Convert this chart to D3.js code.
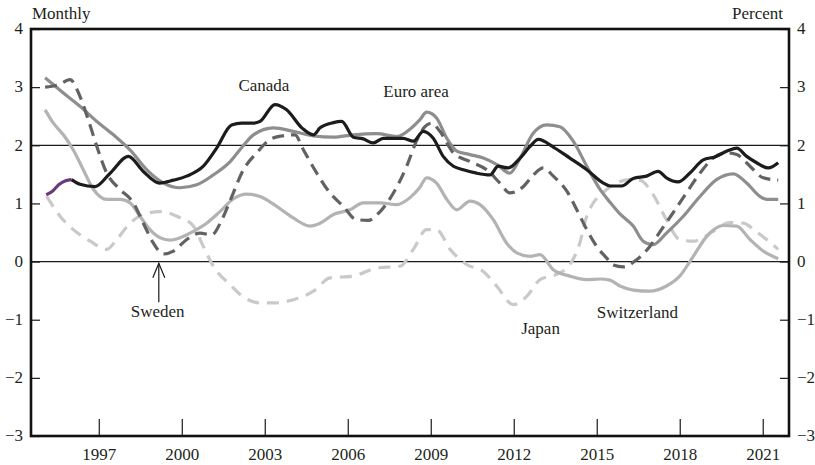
<!DOCTYPE html>
<html>
<head>
<meta charset="utf-8">
<script src="https://cdn.jsdelivr.net/npm/d3@7"></script>
<style>
  html, body { margin: 0; padding: 0; background: #fff; }
  svg { display: block; }
  text { font-family: "Liberation Serif", "DejaVu Serif", serif; fill: #231f20; }
</style>
</head>
<body>
<svg id="chart" width="815" height="465"></svg>
<script>
// ---------- DATA ----------
const yearTicks = [1997, 2000, 2003, 2006, 2009, 2012, 2015, 2018, 2021];
const valueTicks = [-3, -2, -1, 0, 1, 2, 3, 4];
const leftTitle = "Monthly";
const rightTitle = "Percent";

const canadaEarly = [
  [1995.10, 1.15], [1995.30, 1.20], [1995.55, 1.32], [1995.80, 1.39], [1996.02, 1.41]
];
const canada = [
  [1996.02, 1.41], [1996.32, 1.33], [1996.87, 1.29], [1997.41, 1.52], [1998.07, 1.81],
  [1998.61, 1.55], [1999.20, 1.35], [1999.70, 1.40], [2000.18, 1.47], [2000.78, 1.64],
  [2001.26, 1.95], [2001.80, 2.35], [2002.17, 2.38], [2002.59, 2.38], [2002.83, 2.41],
  [2003.37, 2.70], [2003.79, 2.61], [2004.34, 2.30], [2004.76, 2.18], [2005.00, 2.30],
  [2005.48, 2.39], [2005.78, 2.41], [2006.20, 2.14], [2006.56, 2.11], [2006.92, 2.04],
  [2007.28, 2.12], [2008.00, 2.12], [2008.37, 2.07], [2008.73, 2.24], [2009.09, 2.12],
  [2009.45, 1.81], [2009.82, 1.64], [2010.18, 1.58], [2010.66, 1.52], [2011.14, 1.49],
  [2011.44, 1.64], [2011.80, 1.61], [2012.23, 1.78], [2012.59, 1.98], [2012.89, 2.10],
  [2013.43, 1.97], [2014.03, 1.78], [2014.64, 1.58], [2015.24, 1.35], [2015.48, 1.30],
  [2015.90, 1.30], [2016.32, 1.43], [2016.80, 1.47], [2017.22, 1.55], [2017.52, 1.44],
  [2017.94, 1.37], [2018.36, 1.52], [2018.85, 1.75], [2019.27, 1.80], [2019.75, 1.91],
  [2020.06, 1.95], [2020.42, 1.81], [2020.78, 1.70], [2021.20, 1.61], [2021.56, 1.70]
];
const euroArea = [
  [1995.06, 3.16], [1995.72, 2.90], [1996.32, 2.67], [1996.93, 2.41], [1997.53, 2.18],
  [1998.13, 1.92], [1998.73, 1.58], [1999.34, 1.35], [1999.94, 1.27], [2000.54, 1.32],
  [2001.14, 1.49], [2001.75, 1.72], [2002.20, 1.98], [2002.59, 2.18], [2003.31, 2.30],
  [2004.03, 2.24], [2004.76, 2.16], [2005.48, 2.14], [2006.20, 2.18], [2007.05, 2.20],
  [2007.77, 2.15], [2008.31, 2.30], [2008.61, 2.44], [2008.85, 2.57], [2009.21, 2.47],
  [2009.58, 2.12], [2009.94, 1.90], [2010.42, 1.84], [2010.90, 1.78], [2011.38, 1.67],
  [2011.86, 1.52], [2012.23, 1.78], [2012.71, 2.21], [2013.19, 2.35], [2013.67, 2.32],
  [2014.15, 2.07], [2014.64, 1.64], [2015.12, 1.24], [2015.48, 1.02], [2015.84, 0.82],
  [2016.32, 0.61], [2016.68, 0.35], [2017.04, 0.29], [2017.52, 0.49], [2018.13, 0.78],
  [2018.73, 1.12], [2019.33, 1.41], [2019.94, 1.51], [2020.42, 1.35], [2020.90, 1.12],
  [2021.14, 1.07], [2021.56, 1.07]
];
const sweden = [
  [1995.06, 3.00], [1995.54, 3.04], [1995.96, 3.13], [1996.32, 2.84], [1996.62, 2.44],
  [1996.93, 1.98], [1997.29, 1.52], [1997.77, 1.24], [1998.25, 1.01], [1998.61, 0.66],
  [1998.97, 0.32], [1999.34, 0.13], [1999.70, 0.18], [2000.18, 0.38], [2000.66, 0.49],
  [2001.08, 0.46], [2001.45, 0.72], [2001.75, 1.05], [2002.23, 1.58], [2002.71, 1.87],
  [2003.19, 2.10], [2003.61, 2.16], [2004.09, 2.18], [2004.40, 1.92], [2004.88, 1.52],
  [2005.36, 1.18], [2005.84, 0.95], [2006.32, 0.72], [2006.74, 0.71], [2007.17, 0.86],
  [2007.65, 1.18], [2008.13, 1.64], [2008.49, 2.08], [2008.79, 2.32], [2009.03, 2.38],
  [2009.33, 2.24], [2009.82, 1.87], [2010.42, 1.72], [2011.02, 1.58], [2011.50, 1.35],
  [2011.86, 1.18], [2012.35, 1.29], [2012.71, 1.49], [2013.07, 1.61], [2013.43, 1.47],
  [2013.92, 1.21], [2014.28, 0.89], [2014.64, 0.55], [2015.00, 0.26], [2015.36, 0.06],
  [2015.60, -0.06], [2015.96, -0.09], [2016.44, 0.03], [2016.92, 0.26], [2017.34, 0.55],
  [2017.76, 0.84], [2018.24, 1.18], [2018.73, 1.52], [2019.21, 1.78], [2019.69, 1.87],
  [2020.06, 1.84], [2020.54, 1.64], [2021.02, 1.44], [2021.56, 1.40]
];
const switzerland = [
  [1995.06, 2.61], [1995.36, 2.38], [1995.72, 2.18], [1996.08, 1.92], [1996.44, 1.58],
  [1996.81, 1.24], [1997.29, 1.07], [1997.77, 1.07], [1998.13, 1.01], [1998.49, 0.78],
  [1998.85, 0.55], [1999.22, 0.41], [1999.58, 0.37], [1999.94, 0.41], [2000.42, 0.52],
  [2000.90, 0.66], [2001.38, 0.86], [2001.87, 1.08], [2002.35, 1.16], [2002.83, 1.12],
  [2003.43, 0.95], [2004.03, 0.75], [2004.64, 0.61], [2005.00, 0.66], [2005.48, 0.81],
  [2006.08, 0.89], [2006.56, 1.01], [2007.17, 1.01], [2007.77, 0.98], [2008.25, 1.10],
  [2008.61, 1.28], [2008.85, 1.44], [2009.21, 1.35], [2009.58, 1.07], [2009.94, 0.89],
  [2010.42, 1.04], [2010.78, 0.98], [2011.26, 0.72], [2011.74, 0.32], [2012.11, 0.15],
  [2012.59, 0.09], [2012.95, 0.12], [2013.43, -0.14], [2014.03, -0.25], [2014.64, -0.31],
  [2015.12, -0.30], [2015.48, -0.32], [2015.84, -0.42], [2016.32, -0.49], [2016.92, -0.51],
  [2017.52, -0.42], [2018.00, -0.25], [2018.49, 0.09], [2018.97, 0.43], [2019.57, 0.62],
  [2020.06, 0.61], [2020.54, 0.38], [2021.02, 0.18], [2021.56, 0.05]
];
const japan = [
  [1995.12, 1.12], [1995.60, 0.78], [1996.08, 0.55], [1996.69, 0.35], [1997.29, 0.21],
  [1997.65, 0.38], [1998.13, 0.66], [1998.61, 0.81], [1999.22, 0.86], [1999.82, 0.78],
  [2000.42, 0.61], [2000.78, 0.26], [2001.14, -0.08], [2001.75, -0.40], [2002.20, -0.60],
  [2002.83, -0.71], [2003.40, -0.71], [2004.00, -0.66], [2004.76, -0.51], [2005.36, -0.28],
  [2006.20, -0.25], [2007.05, -0.11], [2007.89, -0.08], [2008.37, 0.21], [2008.85, 0.55],
  [2009.21, 0.55], [2009.70, 0.21], [2010.30, -0.05], [2010.90, -0.17], [2011.38, -0.42],
  [2011.98, -0.74], [2012.47, -0.60], [2012.95, -0.31], [2013.55, -0.22], [2014.03, -0.05],
  [2014.39, 0.32], [2014.64, 0.78], [2015.36, 1.24], [2016.20, 1.41], [2016.56, 1.40],
  [2017.04, 1.15], [2017.52, 0.72], [2018.00, 0.38], [2018.49, 0.35], [2019.21, 0.52],
  [2019.81, 0.67], [2020.30, 0.66], [2020.75, 0.52], [2021.14, 0.38], [2021.56, 0.21]
];

// ---------- LAYOUT ----------
const svg = d3.select("#chart");
const plot = { left: 31, right: 789, top: 29, bottom: 436 };
const x = d3.scaleLinear().domain([1994.55, 2021.95]).range([plot.left, plot.right]);
const y = d3.scaleLinear().domain([-3, 4]).range([plot.bottom, plot.top]);
const font = 17;
const intFmt = d3.format("d");

const line = d3.line().x(d => x(d[0])).y(d => y(d[1])).curve(d3.curveMonotoneX);

// reference lines at 0 and 2
svg.selectAll("line.ref").data([0, 2]).join("line")
  .attr("class", "ref")
  .attr("x1", plot.left).attr("x2", plot.right)
  .attr("y1", d => y(d)).attr("y2", d => y(d))
  .attr("stroke", "#1a1a1a").attr("stroke-width", 1.3);

// series
const series = [
  { data: japan, color: "#c9c9c9", dash: "12,8" },
  { data: switzerland, color: "#b3b3b3", dash: null },
  { data: euroArea, color: "#8e8e8e", dash: null },
  { data: sweden, color: "#626262", dash: "12,7" },
  { data: canadaEarly, color: "#6b3a7a", dash: null },
  { data: canada, color: "#1c1c1c", dash: null }
];
svg.append("g").selectAll("path").data(series).join("path")
  .attr("d", d => line(d.data))
  .attr("fill", "none")
  .attr("stroke", d => d.color)
  .attr("stroke-width", 3.2)
  .attr("stroke-linejoin", "round")
  .attr("stroke-dasharray", d => d.dash);

// left axis
const gl = svg.append("g").attr("transform", `translate(${plot.left},0)`)
  .call(d3.axisLeft(y).tickValues(valueTicks).tickFormat(intFmt).tickSize(-9).tickPadding(8));
// right axis
const gr = svg.append("g").attr("transform", `translate(${plot.right},0)`)
  .call(d3.axisRight(y).tickValues(valueTicks).tickFormat(intFmt).tickSize(-9).tickPadding(8));
// bottom axis
const gb = svg.append("g").attr("transform", `translate(0,${plot.bottom})`)
  .call(d3.axisBottom(x).tickValues(yearTicks).tickFormat(intFmt).tickSize(-17));

[gl, gr, gb].forEach(g => {
  g.select(".domain").remove();
  g.selectAll(".tick line").attr("stroke", "#1a1a1a").attr("stroke-width", 1.2);
  g.selectAll(".tick text").attr("font-size", font).attr("font-family", "Liberation Serif").attr("fill", "#231f20");
});
gl.selectAll(".tick text").attr("dy", "0.28em");
gr.selectAll(".tick text").attr("dy", "0.28em");
gb.selectAll(".tick text").attr("y", 24).attr("dy", 0);

// frame
svg.append("rect")
  .attr("x", plot.left).attr("y", plot.top)
  .attr("width", plot.right - plot.left).attr("height", plot.bottom - plot.top)
  .attr("fill", "none").attr("stroke", "#111").attr("stroke-width", 2.6);

// titles
svg.append("text").attr("x", plot.left + 1).attr("y", 19).attr("font-size", font).text(leftTitle);
svg.append("text").attr("x", plot.right - 6).attr("y", 19).attr("font-size", font)
  .attr("text-anchor", "end").text(rightTitle);

// annotations
const labels = [
  { t: "Canada", yr: 2002.97, v: 2.93 },
  { t: "Euro area", yr: 2008.47, v: 2.83 },
  { t: "Sweden", yr: 1999.13, v: -0.96 },
  { t: "Japan", yr: 2012.97, v: -1.24 },
  { t: "Switzerland", yr: 2016.47, v: -0.97 }
];
svg.append("g").selectAll("text").data(labels).join("text")
  .attr("x", d => x(d.yr)).attr("y", d => y(d.v))
  .attr("text-anchor", "middle").attr("font-size", font).text(d => d.t);

// Sweden arrow
const arrowX = x(1999.17);
svg.append("line").attr("x1", arrowX).attr("x2", arrowX)
  .attr("y1", y(-0.70)).attr("y2", y(-0.03))
  .attr("stroke", "#1a1a1a").attr("stroke-width", 1.2);
svg.append("polyline")
  .attr("points", `${arrowX - 6},${y(-0.28)} ${arrowX},${y(-0.03)} ${arrowX + 6},${y(-0.28)}`)
  .attr("fill", "none").attr("stroke", "#1a1a1a").attr("stroke-width", 1.2);
</script>
</body>
</html>
